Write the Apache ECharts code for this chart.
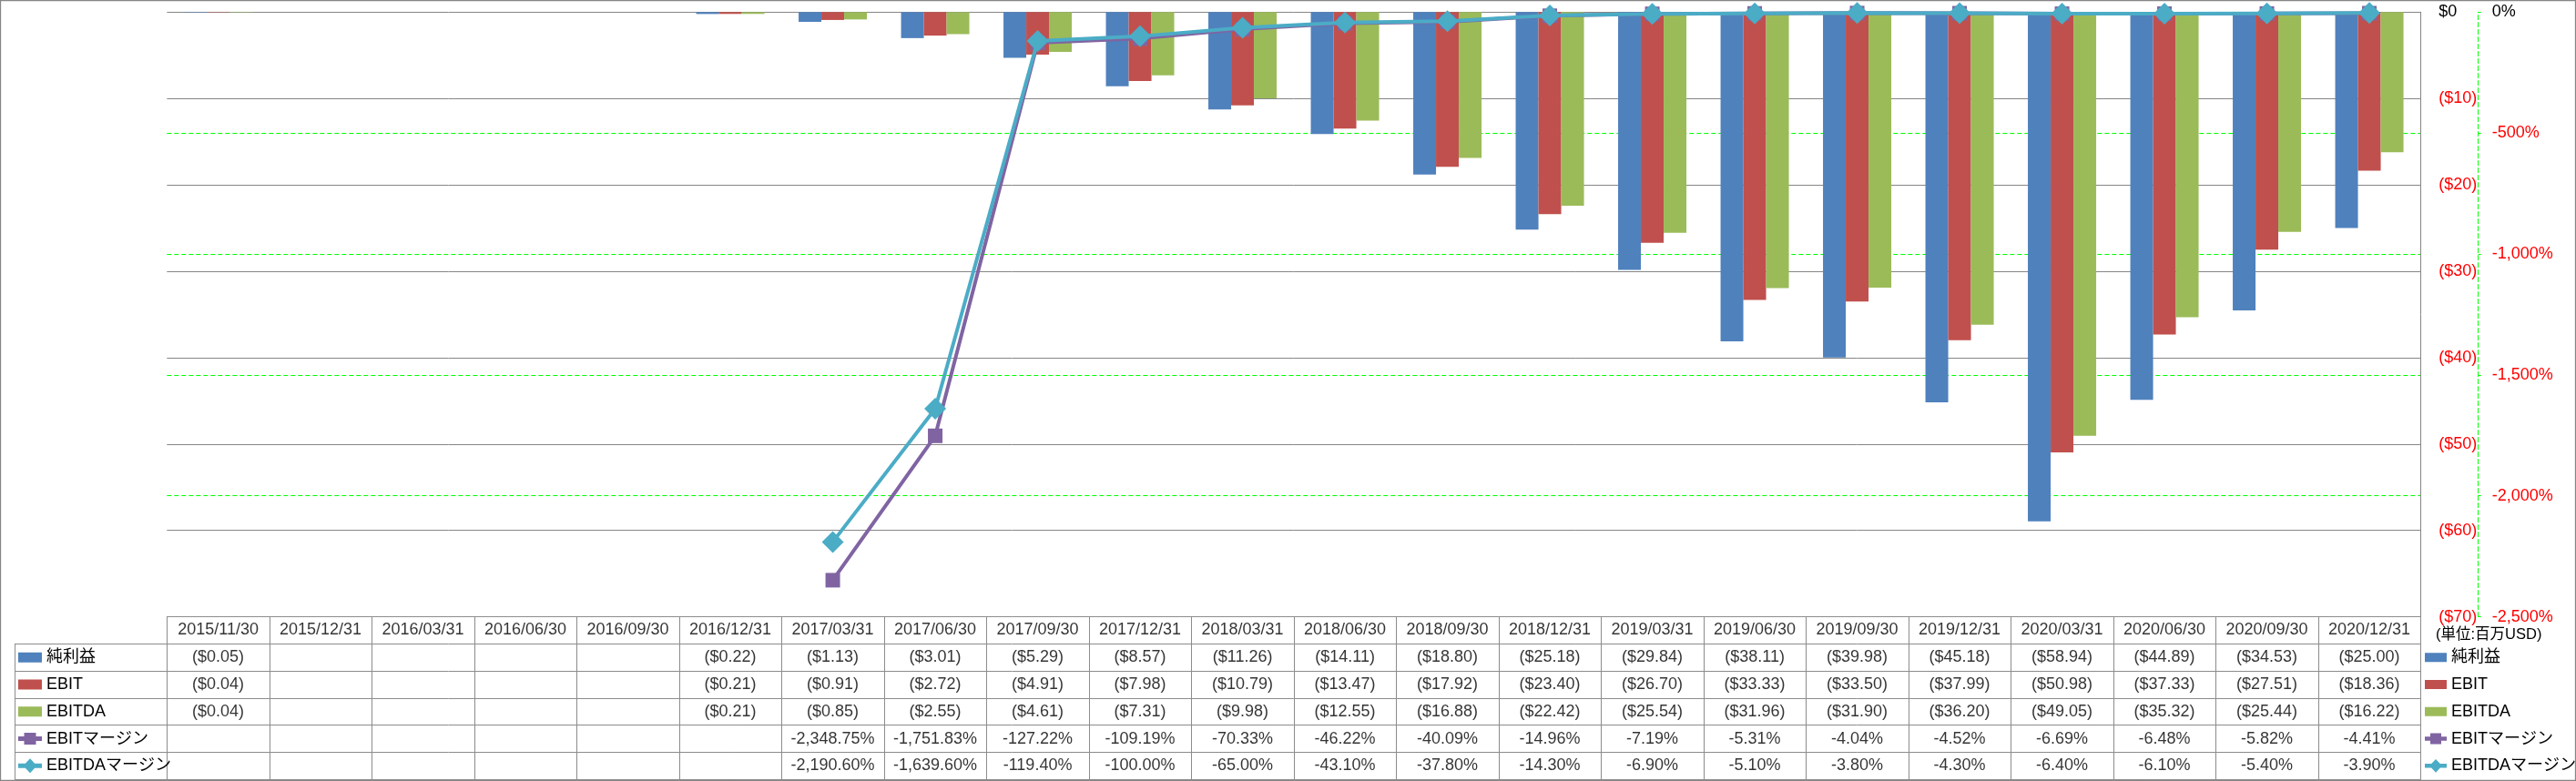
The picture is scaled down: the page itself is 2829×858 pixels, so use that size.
<!DOCTYPE html>
<html>
<head>
<meta charset="utf-8">
<script src="https://cdn.jsdelivr.net/npm/echarts@6/dist/echarts.min.js"></script>
<style>
html,body{margin:0;padding:0;background:#fff;}
#c{width:2829px;height:858px;}
</style>
</head>
<body>
<div id="c"></div>
<script>
// ---- data ----
const categories = ['2015/11/30','2015/12/31','2016/03/31','2016/06/30','2016/09/30','2016/12/31','2017/03/31','2017/06/30','2017/09/30','2017/12/31','2018/03/31','2018/06/30','2018/09/30','2018/12/31','2019/03/31','2019/06/30','2019/09/30','2019/12/31','2020/03/31','2020/06/30','2020/09/30','2020/12/31'];
const seriesNames = ['純利益','EBIT','EBITDA','EBITマージン','EBITDAマージン'];
const netIncome = [-0.05,null,null,null,null,-0.22,-1.13,-3.01,-5.29,-8.57,-11.26,-14.11,-18.80,-25.18,-29.84,-38.11,-39.98,-45.18,-58.94,-44.89,-34.53,-25.00];
const ebit = [-0.04,null,null,null,null,-0.21,-0.91,-2.72,-4.91,-7.98,-10.79,-13.47,-17.92,-23.40,-26.70,-33.33,-33.50,-37.99,-50.98,-37.33,-27.51,-18.36];
const ebitda = [-0.04,null,null,null,null,-0.21,-0.85,-2.55,-4.61,-7.31,-9.98,-12.55,-16.88,-22.42,-25.54,-31.96,-31.90,-36.20,-49.05,-35.32,-25.44,-16.22];
const ebitMargin = [null,null,null,null,null,null,-2348.75,-1751.83,-127.22,-109.19,-70.33,-46.22,-40.09,-14.96,-7.19,-5.31,-4.04,-4.52,-6.69,-6.48,-5.82,-4.41];
const ebitdaMargin = [null,null,null,null,null,null,-2190.60,-1639.60,-119.40,-100.00,-65.00,-43.10,-37.80,-14.30,-6.90,-5.10,-3.80,-4.30,-6.40,-6.10,-5.40,-3.90];
const unitLabel = '(単位:百万USD)';

// ---- styles ----
const FONT = "'Liberation Sans', 'Noto Sans CJK JP', sans-serif";
const COLORS = ['#4F81BD','#C0504D','#9BBB59','#8064A2','#4BACC6'];
const GRID_GRAY = '#868686';
const TABLE_GRAY = '#8C8C8C';
const GREEN = '#00FF00';
// legend icons in a 26 x 17 box (zero-area anchors keep the box size)
const BOX = 'M0,0L0.01,0Z M26,17L25.99,17Z ';
const ICON_RECT = 'path://' + BOX + 'M0,3H26V14H0Z';
const ICON_LINE_SQUARE = 'path://' + BOX + 'M0,6H26V11H0Z M6.5,2H19.5V15H6.5Z';
const ICON_LINE_DIAMOND = 'path://' + BOX + 'M0,6H26V11H0Z M13,0.5L20.5,8.5L13,16.5L5.5,8.5Z';

const money = v => v == null ? '' : '($' + Math.abs(v).toFixed(2) + ')';
const pct = v => v == null ? '' : v.toLocaleString('en-US',{minimumFractionDigits:2,maximumFractionDigits:2}) + '%';

const tableRows = [categories, netIncome.map(money), ebit.map(money), ebitda.map(money), ebitMargin.map(pct), ebitdaMargin.map(pct)];
const cellData = [];
tableRows.forEach((r, ri) => r.forEach((t, ci) => { if (t) cellData.push({value:[ci, ri], t: t}); }));

const plotLeft = 183.3, plotRight = 2829 - 2658.3, plotTop = 13.3, plotBottomY = 677.6;
const tableBottomY = 856.2;
const rowH = (tableBottomY - plotBottomY) / 6;

const legendData = [
  {name: seriesNames[0], icon: ICON_RECT},
  {name: seriesNames[1], icon: ICON_RECT},
  {name: seriesNames[2], icon: ICON_RECT},
  {name: seriesNames[3], icon: ICON_LINE_SQUARE},
  {name: seriesNames[4], icon: ICON_LINE_DIAMOND}
];
const legendCommon = {
  orient: 'vertical', top: plotBottomY + rowH * 1.5 - 10, itemHeight: 17, itemGap: rowH - 20,
  padding: 0, selectedMode: false, data: legendData,
  textStyle: {fontSize: 18, fontFamily: FONT, color: '#000', lineHeight: 20}
};

const chart = echarts.init(document.getElementById('c'));
chart.setOption({
  animation: false,
  textStyle: {fontFamily: FONT},
  title: {text: unitLabel, left: 2675, top: plotBottomY + 12, padding: 0,
    textStyle: {fontSize: 16.5, fontWeight: 'normal', color: '#000', fontFamily: FONT}},
  legend: [
    Object.assign({}, legendCommon, {left: 20, itemWidth: 26}),
    Object.assign({}, legendCommon, {left: 2663, itemWidth: 24})
  ],
  graphic: [{type: 'rect', shape: {x: 0.5, y: 0.5, width: 2828, height: 857}, style: {fill: 'none', stroke: GRID_GRAY, lineWidth: 1.3}, silent: true}],
  grid: [
    {left: plotLeft, right: plotRight, top: plotTop, bottom: 858 - plotBottomY},
    {left: plotLeft, right: plotRight, top: plotBottomY, bottom: 858 - tableBottomY},
    {left: 16.7, width: plotLeft - 16.7, top: plotBottomY + rowH, bottom: 858 - tableBottomY}
  ],
  xAxis: [
    {type: 'category', gridIndex: 0, data: categories, boundaryGap: true,
      axisLine: {show: false}, axisTick: {show: false}, axisLabel: {show: false}, splitLine: {show: false}},
    {type: 'category', gridIndex: 1, data: categories, boundaryGap: true,
      axisLine: {show: true, lineStyle: {color: TABLE_GRAY}}, axisTick: {show: false}, axisLabel: {show: false},
      splitLine: {show: true, interval: 0, lineStyle: {color: TABLE_GRAY}}},
    {type: 'category', gridIndex: 2, data: ['legend'], boundaryGap: true,
      axisLine: {show: true, lineStyle: {color: TABLE_GRAY}}, axisTick: {show: false}, axisLabel: {show: false},
      splitLine: {show: true, interval: 0, lineStyle: {color: TABLE_GRAY}}}
  ],
  yAxis: [
    {type: 'value', gridIndex: 0, position: 'right', min: -70, max: 0, interval: 10,
      axisLine: {show: true, lineStyle: {color: GRID_GRAY}}, axisTick: {show: false},
      axisLabel: {align: 'left', margin: 20, fontSize: 18, fontFamily: FONT,
        formatter: v => Number(v) === 0 ? '$0' : '($' + Math.abs(v) + ')',
        color: v => Number(v) === 0 ? '#000' : '#FF0000'},
      splitLine: {show: true, lineStyle: {color: GRID_GRAY, width: 1}}},
    {type: 'value', gridIndex: 0, position: 'right', offset: 63.4, min: -2500, max: 0, interval: 500,
      axisLine: {show: true, lineStyle: {color: GREEN, type: [5, 3]}},
      axisTick: {show: true, inside: false, length: 3, lineStyle: {color: GREEN}},
      axisLabel: {align: 'left', margin: 15, fontSize: 18, fontFamily: FONT,
        formatter: v => Number(v) === 0 ? '0%' : Number(v).toLocaleString('en-US') + '%',
        color: v => Number(v) === 0 ? '#000' : '#FF0000'},
      splitLine: {show: true, showMinLine: false, showMaxLine: false, lineStyle: {color: GREEN, type: [5, 3], width: 1}}},
    {type: 'category', gridIndex: 1, data: ['0','1','2','3','4','5'], inverse: true,
      axisLine: {show: true, lineStyle: {color: TABLE_GRAY}}, axisTick: {show: false}, axisLabel: {show: false},
      splitLine: {show: true, interval: 0, lineStyle: {color: TABLE_GRAY}}},
    {type: 'category', gridIndex: 2, data: ['1','2','3','4','5'], inverse: true,
      axisLine: {show: true, lineStyle: {color: TABLE_GRAY}}, axisTick: {show: false}, axisLabel: {show: false},
      splitLine: {show: true, interval: 0, lineStyle: {color: TABLE_GRAY}}}
  ],
  series: [
    {name: seriesNames[0], type: 'bar', xAxisIndex: 0, yAxisIndex: 0, data: netIncome, barWidth: 25, barGap: '0%', itemStyle: {color: COLORS[0]}},
    {name: seriesNames[1], type: 'bar', xAxisIndex: 0, yAxisIndex: 0, data: ebit, barWidth: 25, barGap: '0%', itemStyle: {color: COLORS[1]}},
    {name: seriesNames[2], type: 'bar', xAxisIndex: 0, yAxisIndex: 0, data: ebitda, barWidth: 25, barGap: '0%', itemStyle: {color: COLORS[2]}},
    {name: seriesNames[3], type: 'line', xAxisIndex: 0, yAxisIndex: 1, data: ebitMargin, clip: false, z: 5,
      symbol: 'rect', symbolSize: 16, lineStyle: {width: 4, color: COLORS[3]}, itemStyle: {color: COLORS[3]}},
    {name: seriesNames[4], type: 'line', xAxisIndex: 0, yAxisIndex: 1, data: ebitdaMargin, clip: false, z: 6,
      symbol: 'diamond', symbolSize: 24, lineStyle: {width: 4, color: COLORS[4]}, itemStyle: {color: COLORS[4]}},
    {name: 'table', type: 'scatter', xAxisIndex: 1, yAxisIndex: 2, data: cellData, symbolSize: 0, silent: true,
      label: {show: true, position: 'inside', formatter: p => p.data.t, color: '#000', fontSize: 18, fontFamily: FONT}}
  ]
});
</script>
</body>
</html>
